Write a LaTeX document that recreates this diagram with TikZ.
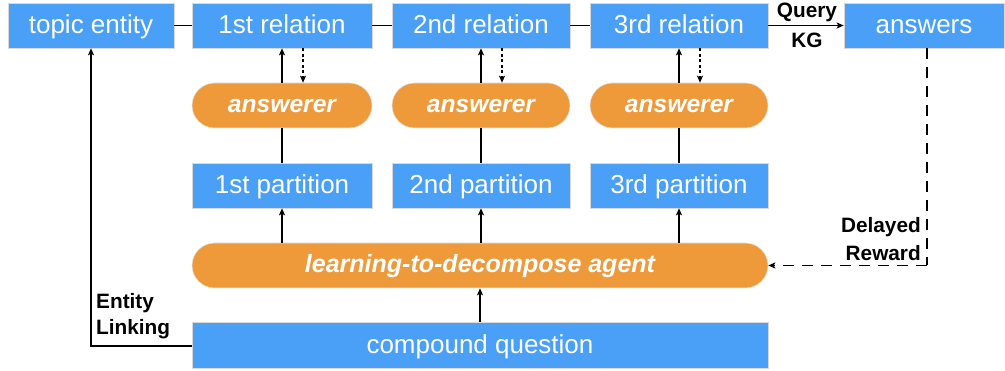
\documentclass[tikz,border=0pt]{standalone}
\usepackage{fontspec}
\setmainfont{Liberation Sans}
\usetikzlibrary{arrows.meta,shapes.misc}
\definecolor{boxblue}{RGB}{74,159,246}
\definecolor{pillorange}{RGB}{238,154,58}
\tikzset{
  bluebox/.style={draw=black!15, line width=0.6pt, fill=boxblue, text=white, minimum height=45pt, inner sep=0pt, text height=17pt, text depth=0pt, font=\fontsize{26}{30}\selectfont, anchor=center},
  pill/.style={draw=black!10, line width=0.6pt, fill=pillorange, text=white, rounded rectangle, minimum height=45pt, inner sep=0pt, text height=13.5pt, text depth=0pt, font=\fontsize{24.6}{28}\selectfont\bfseries\itshape},
  lbl/.style={font=\fontsize{20.8}{24}\selectfont\bfseries, text=black, inner sep=0pt},
  conn/.style={line width=1.4pt},
  arr/.style={line width=1.4pt, -{Stealth[length=7pt,width=6pt,inset=1.5pt]}},
  dotarr/.style={line width=1.4pt, dash pattern=on 3pt off 2.5pt, -{Stealth[length=7pt,width=6pt,inset=1.5pt]}},
  longdash/.style={line width=1.4pt, dash pattern=on 11pt off 8pt},
}
\begin{document}
\begin{tikzpicture}[x=1pt,y=1pt]
\useasboundingbox (0,0) rectangle (1005,-371);
% top row
\node[bluebox, minimum width=166pt] (topic) at (91,-25.5) {topic entity};
\node[bluebox, minimum width=180pt] (r1) at (282,-25.5) {1st relation};
\node[bluebox, minimum width=178pt] (r2) at (481,-25.5) {2nd relation};
\node[bluebox, minimum width=178pt] (r3) at (679,-25.5) {3rd relation};
\node[bluebox, minimum width=160pt] (ans) at (924,-25.5) {answers};
% answerers
\node[pill, minimum width=180pt] (a1) at (282,-105.5) {answerer};
\node[pill, minimum width=178pt] (a2) at (481,-105.5) {answerer};
\node[pill, minimum width=178pt] (a3) at (679,-105.5) {answerer};
% partitions
\node[bluebox, minimum width=180pt] (p1) at (282,-185.5) {1st partition};
\node[bluebox, minimum width=178pt] (p2) at (481,-185.5) {2nd partition};
\node[bluebox, minimum width=178pt] (p3) at (679,-185.5) {3rd partition};
% agent
\node[pill, minimum width=576pt, font=\fontsize{25}{28}\selectfont\bfseries\itshape] (agent) at (480,-265.5) {learning-to-decompose agent};
% question
\node[bluebox, minimum width=576pt, minimum height=46pt] (q) at (480,-345) {compound question};
% top connectors
\draw[conn] (topic.east) -- (r1.west);
\draw[conn] (r1.east) -- (r2.west);
\draw[conn] (r2.east) -- (r3.west);
\draw[arr] (r3.east) -- (ans.west);
\node[lbl] (query) at (807,-12) {Query};
\node[lbl] (kg) at (807,-40) {KG};
% relation <-> answerer
\foreach \i in {1,2,3}{
  \draw[arr] (a\i.north) -- (r\i.south);
  \draw[dotarr] ([xshift=21pt]r\i.south) -- ([xshift=21pt]a\i.north);
  \draw[conn] (p\i.north) -- (a\i.south);
}
% agent -> partitions
\draw[arr] (agent.north -| p1.south) -- (p1.south);
\draw[arr] (agent.north -| p2.south) -- (p2.south);
\draw[arr] (agent.north -| p3.south) -- (p3.south);
% question -> agent
\draw[arr] (q.north) -- (agent.south);
% entity linking
\coordinate (elc) at (91,-346);
\draw[arr] (q.west |- elc) -- (elc) -- (topic.south);
\node[lbl, anchor=west] (ent) at (96,-303) {Entity};
\node[lbl, anchor=west] (link) at (96,-329) {Linking};
% delayed reward
\coordinate (drtop) at (927,-48);
\coordinate (drc) at (927,-265.5);
\draw[longdash] (drtop) -- (drc);
\draw[longdash, -{Stealth[length=7pt,width=6pt,inset=1.5pt]}] (drc) -- (agent.east);
\node[lbl, anchor=east] (del) at (921,-227) {Delayed};
\node[lbl, anchor=east] (rew) at (921,-253) {Reward};
\end{tikzpicture}
\end{document}
